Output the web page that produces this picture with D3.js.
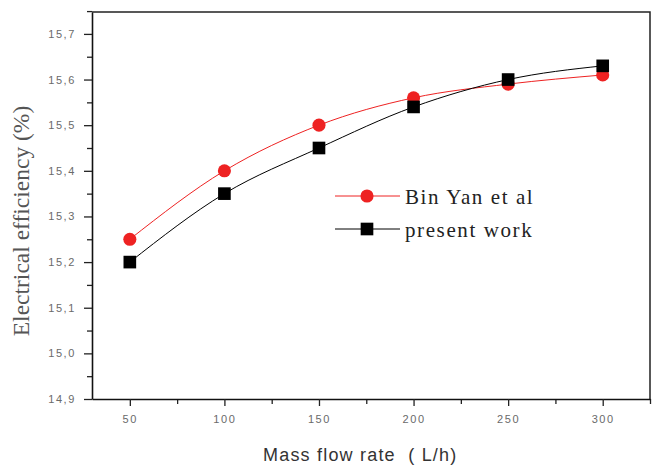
<!DOCTYPE html>
<html lang="en">
<head>
  <meta charset="UTF-8">
  <title>Electrical efficiency vs mass flow rate</title>
  <script src="https://d3js.org/d3.v7.min.js"></script>
  <style>
    body { margin: 0; background: #fff; }
    .tick-label { font-family: "Liberation Sans", Arial, sans-serif; font-size: 11px; fill: #6a6a6a; letter-spacing: 1.6px; }
  </style>
</head>
<body>
  <script>
    const width = 662, height = 465;

    // data
    const flowRates = [50, 100, 150, 200, 250, 300];
    const binYan = [15.25, 15.40, 15.50, 15.56, 15.59, 15.61];
    const presentWork = [15.20, 15.35, 15.45, 15.54, 15.60, 15.63];
    const xTicks = [50, 100, 150, 200, 250, 300];
    const yTicks = [14.9, 15.0, 15.1, 15.2, 15.3, 15.4, 15.5, 15.6, 15.7];

    const plot = { left: 92, top: 12, right: 650, bottom: 399 };

    const svg = d3.select("body").append("svg")
      .attr("width", width)
      .attr("height", height);

    const x = d3.scaleLinear().domain([30, 325]).range([plot.left, plot.right]);
    const y = d3.scaleLinear().domain([14.9, 15.748]).range([plot.bottom, plot.top]);

    // frame (top + right)
    svg.append("path")
      .attr("d", `M${plot.left},${plot.top}H${plot.right}V${plot.bottom}`)
      .attr("fill", "none")
      .attr("stroke", "#222")
      .attr("stroke-width", 1.5);

    // x axis with minor ticks
    const xMinor = d3.range(75, 326, 50);
    svg.append("g")
      .attr("transform", `translate(0,${plot.bottom})`)
      .call(d3.axisBottom(x).tickValues(xMinor).tickSize(5).tickFormat(""))
      .call(g => g.select(".domain").remove())
      .selectAll("line").attr("stroke", "#222").attr("stroke-width", 1.3);

    const xAxis = svg.append("g")
      .attr("transform", `translate(0,${plot.bottom})`)
      .call(d3.axisBottom(x).tickValues(xTicks).tickSize(7).tickPadding(9).tickSizeOuter(0));
    xAxis.select(".domain").attr("stroke", "#111").attr("stroke-width", 1.6);
    xAxis.selectAll("line").attr("stroke", "#222").attr("stroke-width", 1.3);
    xAxis.selectAll("text").attr("class", "tick-label").attr("font-family", null).attr("font-size", null).attr("fill", null);

    // y axis with minor ticks
    const yMinor = d3.range(14.95, 15.75, 0.1);
    svg.append("g")
      .attr("transform", `translate(${plot.left},0)`)
      .call(d3.axisLeft(y).tickValues(yMinor).tickSize(5).tickFormat(""))
      .call(g => g.select(".domain").remove())
      .selectAll("line").attr("stroke", "#222").attr("stroke-width", 1.3);

    const yAxis = svg.append("g")
      .attr("transform", `translate(${plot.left},0)`)
      .call(d3.axisLeft(y).tickValues(yTicks).tickSize(8).tickPadding(8).tickSizeOuter(0)
        .tickFormat(d => d3.format(".1f")(d).replace(".", ",")));
    yAxis.select(".domain").attr("stroke", "#111").attr("stroke-width", 1.6);
    yAxis.selectAll("line").attr("stroke", "#222").attr("stroke-width", 1.3);
    yAxis.selectAll("text").attr("class", "tick-label").attr("font-family", null).attr("font-size", null).attr("fill", null);

    // axis titles
    svg.append("text")
      .attr("transform", `translate(29,221) rotate(-90)`)
      .attr("text-anchor", "middle")
      .attr("font-family", "Liberation Serif, Times New Roman, serif")
      .attr("font-size", 23.5)
      .attr("fill", "#555")
      .text("Electrical efficiency (%)");

    svg.append("text")
      .attr("x", 263)
      .attr("y", 461)
      .attr("font-family", "Liberation Sans, Arial, sans-serif")
      .attr("font-size", 18)
      .attr("letter-spacing", 1.2)
      .attr("fill", "#333")
      .style("white-space", "pre")
      .text("Mass flow rate  ( L/h)");

    // series
    const series = [
      { name: "Bin Yan et al", values: binYan, color: "#ee2222", shape: "circle" },
      { name: "present work", values: presentWork, color: "#000", shape: "square" }
    ];

    const line = d3.line()
      .x(d => x(d[0]))
      .y(d => y(d[1]))
      .curve(d3.curveMonotoneX);

    series.forEach(s => {
      const pts = flowRates.map((f, i) => [f, s.values[i]]);
      svg.append("path")
        .datum(pts)
        .attr("fill", "none")
        .attr("stroke", s.color)
        .attr("stroke-width", 1)
        .attr("d", line);

      const sym = s.shape === "circle" ? d3.symbolCircle : d3.symbolSquare;
      const size = s.shape === "circle" ? 135 : 160;
      svg.append("g").selectAll("path")
        .data(pts)
        .join("path")
        .attr("transform", d => `translate(${x(d[0])},${y(d[1])})`)
        .attr("d", d3.symbol(sym, size))
        .attr("fill", s.color);
    });

    // legend
    const legend = svg.append("g").attr("transform", "translate(335,196)");
    series.forEach((s, i) => {
      const g = legend.append("g").attr("transform", `translate(0,${i * 33})`);
      g.append("line").attr("x1", 0).attr("x2", 65).attr("stroke", s.color).attr("stroke-width", 1);
      const sym = s.shape === "circle" ? d3.symbolCircle : d3.symbolSquare;
      g.append("path")
        .attr("transform", "translate(32,0)")
        .attr("d", d3.symbol(sym, s.shape === "circle" ? 135 : 160))
        .attr("fill", s.color);
      g.append("text")
        .attr("x", 70)
        .attr("y", 8)
        .attr("font-family", "Liberation Serif, Times New Roman, serif")
        .attr("font-size", 21)
        .attr("letter-spacing", 1.6)
        .attr("fill", "#222")
        .text(s.name);
    });
  </script>
</body>
</html>
